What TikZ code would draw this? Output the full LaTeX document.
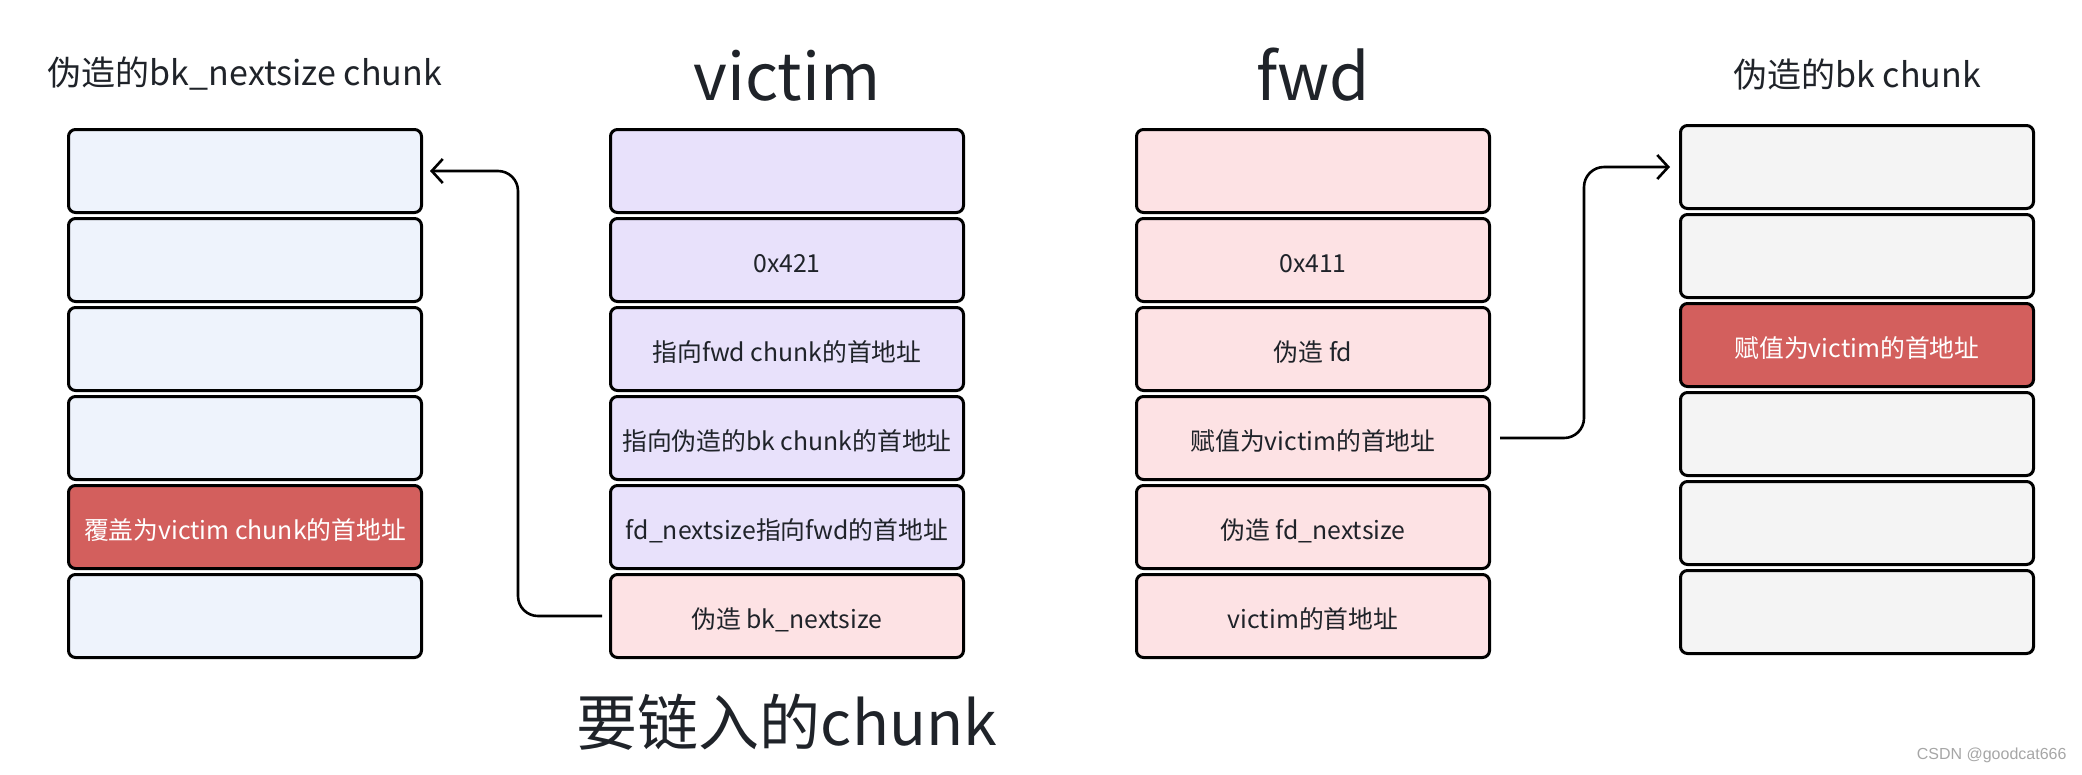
\documentclass[tikz,border=0pt]{standalone}
\usepackage{fontspec}
\setmainfont{Noto Sans CJK SC}
\newfontfamily\markfont{Liberation Sans}
\usepackage{tikz}
\usetikzlibrary{
    calc,
    arrows.meta
}
\definecolor{cellblue}{HTML}{EEF3FC}
\definecolor{cellviolet}{HTML}{E8E1FB}
\definecolor{cellpink}{HTML}{FDE2E4}
\definecolor{cellgray}{HTML}{F4F4F4}
\definecolor{cellred}{HTML}{D35F5D}
\definecolor{inkdark}{HTML}{1F2329}

\begin{document}
\begin{tikzpicture}[x=1pt, y=-1pt,
    cell/.style={draw=black, line width=3pt, rounded corners=7pt,
        minimum width=353pt, minimum height=83pt, inner sep=0pt,
        text height=26pt, text depth=2pt,
        text=inkdark, font=\fontsize{24.8}{30}\selectfont},
    hot/.style={cell, fill=cellred, text=white},
    caption/.style={text=inkdark, font=\fontsize{34}{40}\selectfont},
    headline/.style={text=inkdark, font=\fontsize{65}{78}\selectfont},
    link/.style={line width=2.6pt, rounded corners=20pt,
        -{Straight Barb[length=11pt, width=24pt, line width=2.6pt]}}]
\useasboundingbox (0,0) rectangle (2082,774);

%% forged bk_nextsize chunk
\node[caption] (capL) at (245,74) {伪造的bk\_nextsize chunk};
\node[cell, fill=cellblue] (L1) at (245,171) {};
\node[cell, fill=cellblue] (L2) at (245,260) {};
\node[cell, fill=cellblue] (L3) at (245,349) {};
\node[cell, fill=cellblue] (L4) at (245,438) {};
\node[hot] (L5) at (245,527) {覆盖为victim chunk的首地址};
\node[cell, fill=cellblue] (L6) at (245,616) {};

%% victim
\node[headline, anchor=base] (capV) at (787,100) {victim};
\node[cell, fill=cellviolet] (V1) at (787,171) {};
\node[cell, fill=cellviolet] (V2) at (787,260) {0x421};
\node[cell, fill=cellviolet] (V3) at (787,349) {指向fwd chunk的首地址};
\node[cell, fill=cellviolet] (V4) at (787,438) {指向伪造的bk chunk的首地址};
\node[cell, fill=cellviolet] (V5) at (787,527) {fd\_nextsize指向fwd的首地址};
\node[cell, fill=cellpink] (V6) at (787,616) {伪造 bk\_nextsize};
\node[headline, font=\fontsize{61}{74}\selectfont] (capI) at (787,722) {要链入的chunk};

%% fwd
\node[headline, anchor=base] (capF) at (1313,100) {fwd};
\node[cell, fill=cellpink] (F1) at (1313,171) {};
\node[cell, fill=cellpink] (F2) at (1313,260) {0x411};
\node[cell, fill=cellpink] (F3) at (1313,349) {伪造 fd};
\node[cell, fill=cellpink] (F4) at (1313,438) {赋值为victim的首地址};
\node[cell, fill=cellpink] (F5) at (1313,527) {伪造 fd\_nextsize};
\node[cell, fill=cellpink] (F6) at (1313,616) {victim的首地址};

%% forged bk chunk
\node[caption] (capK) at (1857,74) {伪造的bk chunk};
\node[cell, fill=cellgray] (K1) at (1857,167) {};
\node[cell, fill=cellgray] (K2) at (1857,256) {};
\node[hot] (K3) at (1857,345) {赋值为victim的首地址};
\node[cell, fill=cellgray] (K4) at (1857,434) {};
\node[cell, fill=cellgray] (K5) at (1857,523) {};
\node[cell, fill=cellgray] (K6) at (1857,612) {};

%% pointers
\draw[link] ([xshift=-7pt]V6.west) -- ++(-84,0) |- ([xshift=7pt]L1.east);
\draw[link] ([xshift=9pt]F4.east) -- ++(84,0) |- ([xshift=-9pt]K1.west);

\node[anchor=east, text=black!35, font=\markfont\fontsize{16}{18}\selectfont] (mark) at (2070,755) {CSDN @goodcat666};
\end{tikzpicture}
\end{document}
